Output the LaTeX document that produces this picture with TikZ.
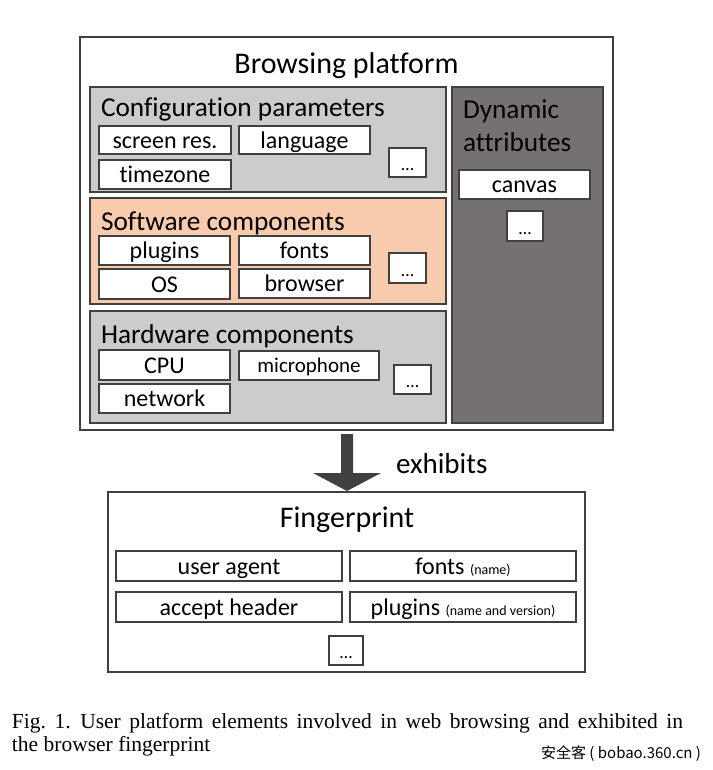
\documentclass[tikz,border=0pt]{standalone}
\usepackage{fontspec}
\setmainfont{Carlito}[Ligatures={NoCommon}]
\newfontfamily\capfont{Liberation Serif}
\newfontfamily\cjkfont{Noto Sans CJK SC}
\newcommand\setfs[1]{\fontsize{#1}{#1}\selectfont}
\newcommand\bx[7]{\node[#6, minimum width=#4pt-#2pt, minimum height=#5pt-#3pt, anchor=north west] (#1) at (#2,#3) {#7};}
\definecolor{edgec}{HTML}{404040}
\definecolor{lgrey}{HTML}{CCCCCC}
\definecolor{peach}{HTML}{F8CBAD}
\definecolor{dgrey}{HTML}{767171}
\definecolor{arrowc}{HTML}{404040}
\begin{document}
\begin{tikzpicture}[x=1pt,y=-1pt,
  every node/.style={inner sep=0pt, outer sep=0pt},
  outerbox/.style={draw=edgec, line width=1.8pt, fill=white},
  grp/.style={draw=edgec, line width=1.4pt},
  lbl/.style={draw=edgec, fill=white, line width=1.2pt, font=\setfs{24}, text height=21.5pt, text depth=5pt, align=center},
  smalllbl/.style={lbl, font=\setfs{21}, text height=17pt, text depth=4pt},
  dotsbox/.style={lbl, font=\setfs{18}},
  hdr/.style={font=\setfs{27.3}, anchor=base west},
  ttl/.style={font=\setfs{30}, anchor=base},
  note/.style={font=\setfs{14}}
]
\useasboundingbox (0,0) rectangle (712,770);

% Browsing platform
\bx{outer}{80}{37}{613}{430}{outerbox}{}
\node[ttl] (outert) at (346.5,74) {Browsing platform};

% Configuration parameters
\bx{cfg}{90}{87}{446}{192}{grp, fill=lgrey}{}
\node[hdr] (cfgt) at (101,117) {Configuration parameters};
\bx{scr}{99}{126}{231}{154}{lbl}{screen res.}
\bx{lang}{239}{126}{370}{154}{lbl}{language}
\bx{tz}{99}{160}{231}{189}{lbl}{timezone}
\bx{d1}{389}{148}{426}{177}{dotsbox}{…}

% Software components
\bx{sw}{90}{198}{446}{304}{grp, fill=peach}{}
\node[hdr] (swt) at (101,230) {Software components};
\bx{plg}{99}{236}{230}{265}{lbl}{plugins}
\bx{fnt}{239}{236}{370}{265}{lbl}{fonts}
\bx{os}{99}{269}{230}{299}{lbl}{OS}
\bx{brw}{239}{269}{370}{298}{lbl}{browser}
\bx{d2}{389}{253}{426}{283}{dotsbox}{…}

% Hardware components
\bx{hw}{90}{311}{446}{423}{grp, fill=lgrey}{}
\node[hdr] (hwt) at (101,343) {Hardware components};
\bx{cpu}{99}{350}{230}{380}{lbl}{CPU}
\bx{mic}{239}{351}{379}{380}{smalllbl}{microphone}
\bx{net}{99}{384}{230}{413}{lbl}{network}
\bx{d3}{394}{365}{431}{394}{dotsbox}{…}

% Dynamic attributes
\bx{dyn}{452}{87}{603}{423}{grp, fill=dgrey}{}
\node[hdr] (dynt1) at (463,119) {Dynamic};
\node[hdr] (dynt2) at (463,152) {attributes};
\bx{cnv}{459}{170}{590}{199}{lbl}{canvas}
\bx{d4}{507}{211}{543}{241}{dotsbox}{…}

% Arrow
\coordinate (atop) at (347,434);
\coordinate (atip) at (347,491);
\fill[arrowc] (341,434) -- (353,434) -- (353,473) -- (381,473) -- (atip) -- (313,473) -- (341,473) -- cycle;
\node[font=\setfs{29}, anchor=base west] (exh) at (396,473) {exhibits};

% Fingerprint
\bx{fp}{108}{492}{585}{672}{draw=edgec, line width=1.4pt, fill=white}{}
\node[ttl] (fpt) at (347,527) {Fingerprint};
\bx{ua}{116}{551}{342}{581}{lbl}{user agent}
\bx{fn}{350}{551}{576}{581}{lbl}{fonts {\setfs{14}(name)}}
\bx{ah}{116}{592}{342}{622}{lbl}{accept header}
\bx{pl}{350}{592}{576}{622}{lbl}{plugins {\setfs{14}(name and version)}}
\bx{d5}{329}{636}{363}{665}{dotsbox}{…}

% Caption
\node[font=\capfont\setfs{21.5}, anchor=base west] (cap1) at (12,728)
  {\makebox[671pt][s]{Fig.~1.\hspace{0.45em}User platform elements involved in web browsing and exhibited in}};
\node[font=\capfont\setfs{21.5}, anchor=base west] (cap2) at (12,751) {the browser fingerprint};
\node[font=\cjkfont\setfs{15}, anchor=base east] (wm) at (701,758) {安全客 ( bobao.360.cn )};
\end{tikzpicture}
\end{document}
